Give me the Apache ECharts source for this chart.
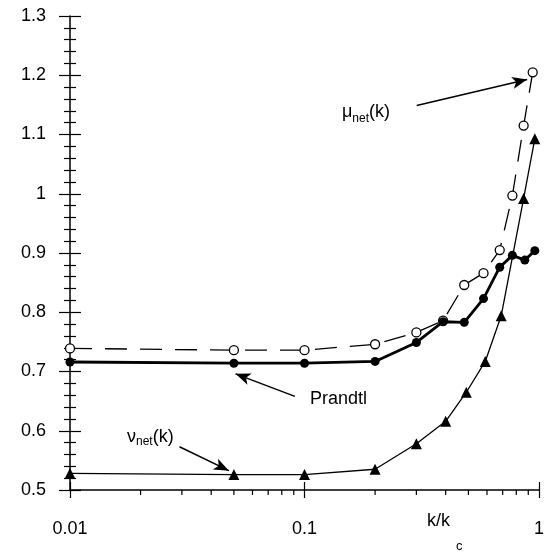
<!DOCTYPE html>
<html><head><meta charset="utf-8">
<script src="https://cdn.jsdelivr.net/npm/echarts@6/dist/echarts.min.js"></script>
<style>html,body{margin:0;padding:0;background:#fff}#c{width:547px;height:552px}</style>
</head><body><div id="c"></div>
<script>
// k/kc positions and values
var muX = [0.01, 0.05, 0.1, 0.2, 0.3, 0.39, 0.48, 0.58, 0.68, 0.77, 0.86, 0.94];
var muY = [0.739, 0.736, 0.736, 0.746, 0.766, 0.786, 0.846, 0.866, 0.905, 0.997, 1.115, 1.205];
var prX = [0.01, 0.05, 0.1, 0.2, 0.3, 0.39, 0.48, 0.58, 0.68, 0.77, 0.87, 0.96];
var prY = [0.716, 0.714, 0.714, 0.717, 0.749, 0.784, 0.783, 0.823, 0.876, 0.896, 0.888, 0.904];
var nuX = [0.01, 0.05, 0.1, 0.2, 0.3, 0.4, 0.49, 0.59, 0.69, 0.86, 0.96];
var nuY = [0.528, 0.526, 0.526, 0.535, 0.578, 0.616, 0.665, 0.717, 0.794, 0.992, 1.093];
var xTickLabels = {'0.01': '0.01', '0.1': '0.1', '1': '1'};
var xMinor = [0.02,0.03,0.04,0.05,0.06,0.07,0.08,0.09,0.2,0.3,0.4,0.5,0.6,0.7,0.8,0.9];
// annotation arrows in data coords [x1,y1,x2,y2]
var muArrow = [0.301, 1.149, 0.89, 1.193];
var prArrow = [0.091, 0.658, 0.0508, 0.696];
var nuArrow = [0.0293, 0.573, 0.0476, 0.5326];

function zip(a, b) { return a.map(function (v, i) { return [v, b[i]]; }); }
function arrow(a) {
  return {
    silent: true, symbol: ['none', 'arrow'], symbolSize: [9, 15],
    lineStyle: { color: '#000', width: 1.5, type: 'solid' }, label: { show: false },
    data: [[{ coord: [a[0], a[1]] }, { coord: [a[2], a[3]] }]]
  };
}
var FONT = '"Liberation Sans", Arial, sans-serif';
var chart = echarts.init(document.getElementById('c'), null, { renderer: 'canvas' });
var xBase = {
  type: 'log', logBase: 10, min: 0.01, max: 1, position: 'bottom',
  axisLine: { show: true, onZero: false, lineStyle: { color: '#000', width: 1.5 } },
  splitLine: { show: false }
};
var yBase = {
  type: 'value', min: 0.5, max: 1.3, interval: 0.1, position: 'left',
  axisLine: { show: true, onZero: false, lineStyle: { color: '#000', width: 1.5 } },
  splitLine: { show: false }, minorSplitLine: { show: false }
};
chart.setOption({
  animation: false,
  backgroundColor: '#fff',
  grid: { left: 70, right: 3, top: 16, bottom: 62, containLabel: false },
  xAxis: [
    Object.assign({}, xBase, {
      axisTick: { show: true, inside: false, length: 8, lineStyle: { color: '#000', width: 1.2 } },
      axisLabel: { show: true, margin: 30, fontSize: 18, color: '#000', fontFamily: FONT,
        formatter: function (v) { var k = String(+v.toPrecision(3)); return xTickLabels[k] !== undefined ? xTickLabels[k] : ''; } }
    }),
    Object.assign({}, xBase, {
      axisLine: { show: false },
      axisTick: { show: true, inside: true, length: 8, lineStyle: { color: '#000', width: 1.2 } },
      axisLabel: { show: false }
    })
  ],
  yAxis: [
    Object.assign({}, yBase, {
      axisTick: { show: true, inside: false, length: 11, lineStyle: { color: '#000', width: 1.2 } },
      minorTick: { show: true, splitNumber: 5, length: 6, lineStyle: { color: '#000', width: 1.2 } },
      axisLabel: { show: true, margin: 24, fontSize: 18, color: '#000', fontFamily: FONT }
    }),
    Object.assign({}, yBase, {
      axisLine: { show: false },
      axisTick: { show: true, inside: true, length: 11, lineStyle: { color: '#000', width: 1.2 } },
      minorTick: { show: true, splitNumber: 5, length: 6, lineStyle: { color: '#000', width: 1.2 } },
      axisLabel: { show: false }
    })
  ],
  series: [
    {
      type: 'custom', xAxisIndex: 0, yAxisIndex: 0, silent: true, clip: false,
      data: xMinor.map(function (v) { return [v, 0.5]; }),
      renderItem: function (params, api) {
        var p = api.coord([api.value(0), api.value(1)]);
        return { type: 'line', shape: { x1: p[0], y1: p[1], x2: p[0], y2: p[1] + 5 },
          style: { stroke: '#000', lineWidth: 1.2 } };
      },
      z: 1
    },
    {
      name: 'nu', type: 'line', data: zip(nuX, nuY), symbol: 'triangle', symbolSize: 11,
      itemStyle: { color: '#000' }, lineStyle: { color: '#000', width: 1.3 },
      markLine: arrow(nuArrow), z: 3
    },
    {
      name: 'mu', type: 'line', data: zip(muX, muY), symbol: 'circle', symbolSize: 9,
      itemStyle: { color: '#fff', borderColor: '#000', borderWidth: 1.3 },
      lineStyle: { color: '#000', width: 1.3, type: [22, 13] },
      markLine: arrow(muArrow), z: 3
    },
    {
      name: 'Prandtl', type: 'line', data: zip(prX, prY), symbol: 'circle', symbolSize: 9,
      itemStyle: { color: '#000' }, lineStyle: { color: '#000', width: 2.8 },
      markLine: arrow(prArrow), z: 4
    }
  ],
  graphic: [
    { type: 'text', left: 342, top: 103, style: { text: '{a|μ}{s|net}{a|(k)}', fill: '#000',
      rich: { a: { fontSize: 18, fontFamily: FONT, verticalAlign: 'top' }, s: { fontSize: 12, fontFamily: FONT, padding: [10, 0, 0, 0] } } } },
    { type: 'text', left: 310, top: 390, style: { text: 'Prandtl', fontSize: 18, fontFamily: FONT, fill: '#000' } },
    { type: 'text', left: 127, top: 428, style: { text: '{a|ν}{s|net}{a|(k)}', fill: '#000',
      rich: { a: { fontSize: 18, fontFamily: FONT }, s: { fontSize: 12, fontFamily: FONT, padding: [10, 0, 0, 0] } } } },
    { type: 'text', left: 427, top: 512, style: { text: 'k/k', fontSize: 18, fontFamily: FONT, fill: '#000' } },
    { type: 'text', left: 456, top: 540, style: { text: 'c', fontSize: 13, fontFamily: FONT, fill: '#000' } }
  ]
});
</script></body></html>
